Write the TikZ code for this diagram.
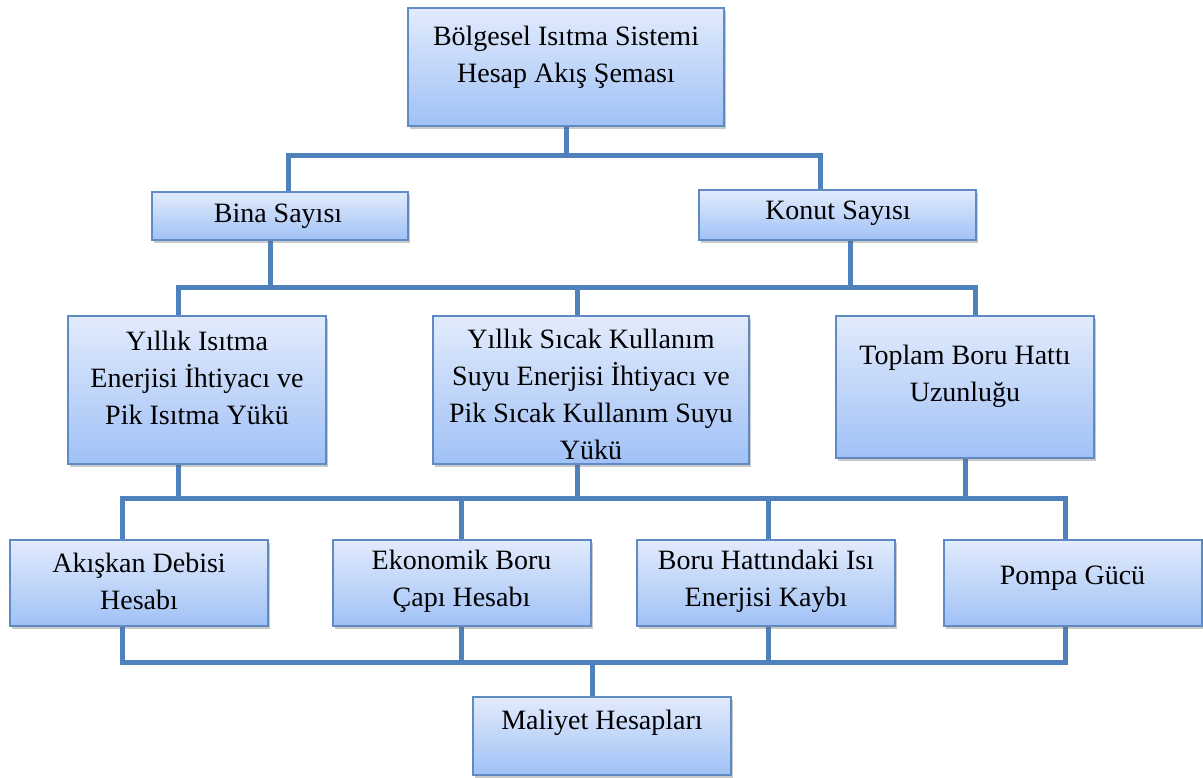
\documentclass[tikz,border=0pt]{standalone}
\usepackage{fontspec}
\setmainfont{Liberation Serif}
\usetikzlibrary{shadows,backgrounds}

\definecolor{boxtop}{RGB}{226,235,252}
\definecolor{boxbot}{RGB}{160,193,246}
\definecolor{boxline}{RGB}{96,138,196}
\definecolor{linkblue}{RGB}{79,129,189}

\tikzset{
  box/.style 2 args={draw=boxline, line width=1.5pt, top color=boxtop, bottom color=boxbot,
    minimum width=#1, minimum height=#2, inner sep=0pt,
    drop shadow={shadow xshift=1.5pt, shadow yshift=-2pt, opacity=0.35, fill=black!60}},
  lbl/.style={align=center, inner sep=0.75pt, font=\fontsize{21}{27.75}\selectfont},
  link/.style={draw=linkblue, line width=3.75pt},
}

\begin{document}
\begin{tikzpicture}[x=0.75pt,y=0.75pt,yscale=-1,xscale=1]
\useasboundingbox (0,0) rectangle (1203,778);

% Boxes
\node [box={237pt}{88.5pt}] (sema) at (566,67) {};
\node [box={192pt}{36pt}] (bina) at (280,216) {};
\node [box={207.75pt}{37.5pt}] (konut) at (837.5,215) {};
\node [box={193.5pt}{111pt}] (isitma) at (197,390) {};
\node [box={237pt}{111pt}] (sicaksu) at (591,390) {};
\node [box={193.5pt}{106.5pt}] (boruhat) at (965,387) {};
\node [box={193.5pt}{64.5pt}] (debi) at (139,583) {};
\node [box={193.5pt}{64.5pt}] (cap) at (461.5,583) {};
\node [box={193.5pt}{64.5pt}] (kayip) at (766,583) {};
\node [box={193.5pt}{64.5pt}] (pompa) at (1072.5,583) {};
\node [box={193.5pt}{58.5pt}] (maliyet) at (602,736) {};

% Text Node
\node [lbl] (semaT) at (566,57) {Bölgesel Isıtma Sistemi\\Hesap Akış Şeması};
% Text Node
\node [lbl] (binaT) at (278,216) {Bina Sayısı};
% Text Node
\node [lbl] (konutT) at (838,213) {Konut Sayısı};
% Text Node
\node [lbl] (isitmaT) at (197,378) {Yıllık Isıtma\\Enerjisi İhtiyacı ve\\Pik Isıtma Yükü};
% Text Node
\node [lbl] (sicaksuT) at (591,394) {Yıllık Sıcak Kullanım\\Suyu Enerjisi İhtiyacı ve\\Pik Sıcak Kullanım Suyu\\Yükü};
% Text Node
\node [lbl] (boruhatT) at (965,376) {Toplam Boru Hattı\\Uzunluğu};
% Text Node
\node [lbl] (debiT) at (139,581) {Akışkan Debisi\\Hesabı};
% Text Node
\node [lbl] (capT) at (461.5,581) {Ekonomik Boru\\Çapı Hesabı};
% Text Node
\node [lbl] (kayipT) at (766,581) {Boru Hattındaki Isı\\Enerjisi Kaybı};
% Text Node
\node [lbl] (pompaT) at (1072.5,578) {Pompa Gücü};
% Text Node
\node [lbl] (maliyetT) at (602,723) {Maliyet Hesapları};

% Connectors
\begin{scope}[on background layer]
\coordinate (bus1) at (0,155);
\coordinate (bus2) at (0,287);
\coordinate (bus3) at (0,498);
\coordinate (bus4) at (0,662);

\draw [link] (sema.south) -- (sema.south |- bus1);
\draw [link] ([xshift=6pt]bina.north) -- ([xshift=6pt]bina.north |- bus1) -- ([xshift=-13.1pt]konut.north |- bus1) -- ([xshift=-13.1pt]konut.north);

\draw [link] ([xshift=-7.5pt]bina.south) -- ([xshift=-7.5pt]bina.south |- bus2);
\draw [link] ([xshift=9.4pt]konut.south) -- ([xshift=9.4pt]konut.south |- bus2);
\draw [link] ([xshift=-14.25pt]isitma.north) -- ([xshift=-14.25pt]isitma.north |- bus2) -- ([xshift=7.5pt]boruhat.north |- bus2) -- ([xshift=7.5pt]boruhat.north);
\draw [link] ([xshift=-10.5pt]sicaksu.north) -- ([xshift=-10.5pt]sicaksu.north |- bus2);

\draw [link] ([xshift=-14.25pt]isitma.south) -- ([xshift=-14.25pt]isitma.south |- bus3);
\draw [link] ([xshift=-10.5pt]sicaksu.south) -- ([xshift=-10.5pt]sicaksu.south |- bus3);
\draw [link] (boruhat.south) -- (boruhat.south |- bus3);
\draw [link] ([xshift=-12.75pt]debi.north) -- ([xshift=-12.75pt]debi.north |- bus3) -- ([xshift=-5.6pt]pompa.north |- bus3) -- ([xshift=-5.6pt]pompa.north);
\draw [link] (cap.north) -- (cap.north |- bus3);
\draw [link] ([xshift=1.5pt]kayip.north) -- ([xshift=1.5pt]kayip.north |- bus3);

\draw [link] ([xshift=-12.75pt]debi.south) -- ([xshift=-12.75pt]debi.south |- bus4) -- ([xshift=-5.6pt]pompa.south |- bus4) -- ([xshift=-5.6pt]pompa.south);
\draw [link] (cap.south) -- (cap.south |- bus4);
\draw [link] ([xshift=1.5pt]kayip.south) -- ([xshift=1.5pt]kayip.south |- bus4);
\draw [link] ([xshift=-7.5pt]maliyet.north) -- ([xshift=-7.5pt]maliyet.north |- bus4);
\end{scope}
\end{tikzpicture}
\end{document}
